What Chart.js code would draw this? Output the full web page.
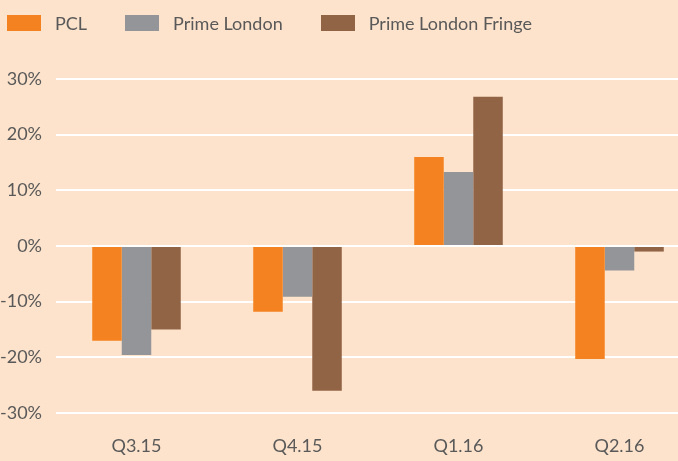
<!DOCTYPE html>
<html>
<head>
<meta charset="utf-8">
<script src="https://cdn.jsdelivr.net/npm/chart.js@4"></script>
<style>
  html, body { margin: 0; padding: 0; background: #FDE3CC; overflow: hidden; }
  #wrap { position: relative; width: 700px; height: 461px; }
  #legend { position: absolute; left: 7px; top: 12px; display: flex; font: 18px Lato, sans-serif; color: #595959; }
  .item { display: flex; align-items: center; margin-right: 38px; }
  .box { width: 34px; height: 16px; margin-right: 14px; }
</style>
</head>
<body>
<div id="wrap">
  <canvas id="chart" width="700" height="461"></canvas>
  <div id="legend"></div>
</div>
<script>
// quarters along the x axis
const quarters = ['Q3.15', 'Q4.15', 'Q1.16', 'Q2.16'];

// annual change, %
const pcl = [-17.0, -11.8, 16.0, -20.3];
const primeLondon = [-19.6, -9.1, 13.3, -4.4];
const primeFringe = [-15.0, -26.0, 26.8, -1.0];

const seriesNames = ['PCL', 'Prime London', 'Prime London Fringe'];
const seriesColors = ['#F58220', '#939598', '#926446'];

const TEXT_COLOR = '#595959';

// html legend, the chart.js one can't do the wide gap after the box
var legendHTML = '';
seriesNames.forEach((name, i) => {
  legendHTML += "<div class='item'><div class='box' style='background:" + seriesColors[i] + "'></div>" + name + "</div>";
});
document.getElementById('legend').innerHTML = legendHTML;

const ctx = document.getElementById('chart').getContext('2d');
const barChart = new Chart(ctx, {
  type: 'bar',
  data: {
    labels: quarters,
    datasets: [pcl, primeLondon, primeFringe].map((vals, i) => ({
      label: seriesNames[i],
      data: vals,
      backgroundColor: seriesColors[i],
      borderWidth: 0,
      categoryPercentage: 0.55,
      barPercentage: 1.0
    }))
  },
  options: {
    responsive: false,
    animation: false,
    layout: {
      padding: { top: 79, left: 0, right: 0, bottom: 0 }
    },
    plugins: {
      legend: { display: false },
      tooltip: { enabled: false }
    },
    scales: {
      x: {
        afterFit: (scale) => { scale.height = 48; },
        grid: { display: false, drawTicks: false },
        border: { display: false },
        ticks: {
          color: TEXT_COLOR,
          font: { family: 'Lato', size: 18 },
          padding: 22
        }
      },
      y: {
        min: -30,
        max: 30,
        afterFit: (scale) => { scale.width = 56; },
        grid: {
          color: '#FFFFFF',
          lineWidth: 2,
          drawTicks: false
        },
        border: { display: false },
        ticks: {
          stepSize: 10,
          color: TEXT_COLOR,
          font: { family: 'Lato', size: 18 },
          padding: 14,
          callback: (v) => v + '%'
        }
      }
    }
  }
});
</script>
</body>
</html>
